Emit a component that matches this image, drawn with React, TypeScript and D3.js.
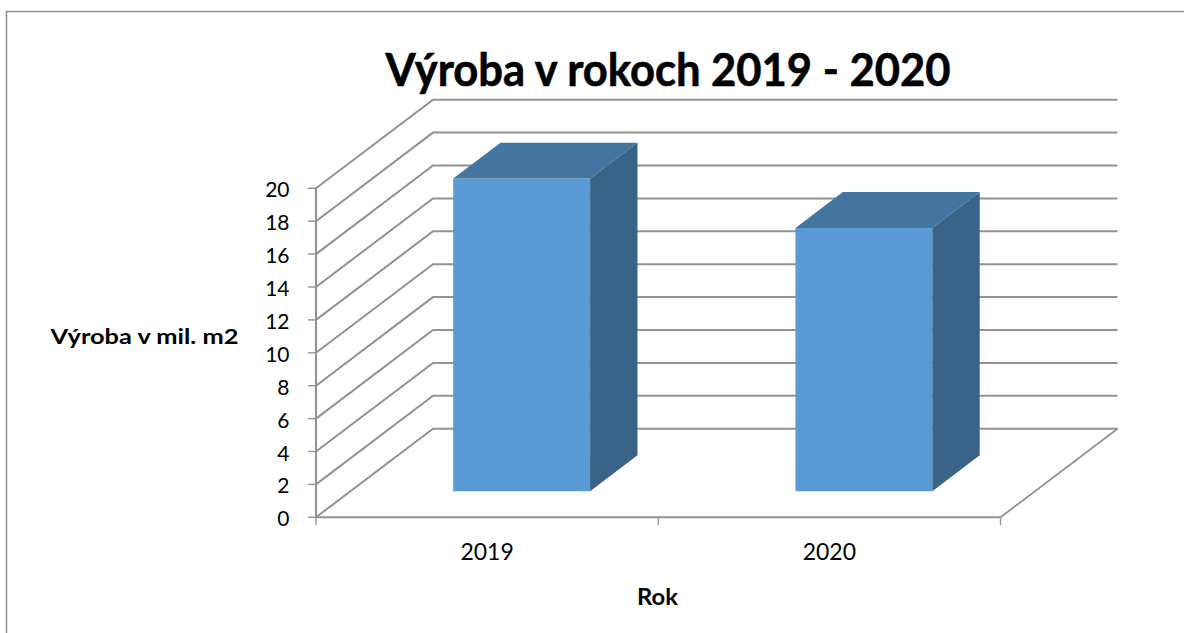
import React from "react";
import * as d3 from "d3";

const categories = ["2019", "2020"];
const values = [19, 16];
const yTicks = [0, 2, 4, 6, 8, 10, 12, 14, 16, 18, 20];
const titleText = "Výroba v rokoch 2019 - 2020";
const yTitle = "Výroba v mil. m2";
const xTitle = "Rok";

const W = 1184;
const H = 633;
const FONT = "Lato, 'Open Sans', sans-serif";
const GRID = "#929292";

const x = d3.scaleBand<string>().domain(categories).range([316, 1000.5]).paddingInner(0.6).paddingOuter(0.3);
const y = d3.scaleLinear().domain([0, 20]).range([517.3, 188.3]);
const depthX = 117;
const depthY = 88.6;
const barFront = 0.295;
const barBack = 0.7;

const pt = (px: number, v: number, d: number): [number, number] => [px + d * depthX, y(v) - d * depthY];
const poly = (pts: [number, number][]) => d3.line()(pts) + "Z";

export default function App() {
  const x0 = x.range()[0];
  const x1 = x.range()[1];
  const step = x.step();
  const boundaries = [0, 1, 2].map((i) => x0 + i * step);
  return (
    <svg width={W} height={H} style={{ position: "absolute", left: 0, top: 0, background: "#fff" }} fontFamily={FONT}>
      <path d={`M6.5 ${H}V11.5H${W}`} fill="none" stroke="#8f8f8f" strokeWidth={1.5} />

      {yTicks.map((t) => {
        const a = pt(x0, t, 0);
        const b = pt(x0, t, 1);
        const c = pt(x1, t, 1);
        return <path key={t} d={d3.line()([a, b, c]) || ""} fill="none" stroke={GRID} strokeWidth={2} />;
      })}
      <path d={d3.line()([pt(x1, 0, 0), pt(x1, 0, 1)]) || ""} fill="none" stroke={GRID} strokeWidth={1.8} />
      <path d={`M${x0} ${y(20)}V${y(0)}H${x1}`} fill="none" stroke={GRID} strokeWidth={2} />
      {yTicks.map((t) => (
        <line key={t} x1={x0 - 8} x2={x0} y1={y(t)} y2={y(t)} stroke={GRID} strokeWidth={1.4} />
      ))}
      {boundaries.map((b) => (
        <line key={b} x1={b} x2={b} y1={y(0)} y2={y(0) + 8} stroke={GRID} strokeWidth={1.3} />
      ))}

      {categories.map((c, i) => {
        const l = x(c)!;
        const r = l + x.bandwidth();
        const v = values[i];
        return (
          <g key={c}>
            <path d={poly([pt(l, 0, barFront), pt(r, 0, barFront), pt(r, v, barFront), pt(l, v, barFront)])} fill="#5b9bd5" />
            <path d={poly([pt(l, v, barFront), pt(r, v, barFront), pt(r, v, barBack), pt(l, v, barBack)])} fill="#4475a0" />
            <path d={poly([pt(r, 0, barFront), pt(r, 0, barBack), pt(r, v, barBack), pt(r, v, barFront)])} fill="#3a6487" />
          </g>
        );
      })}

      {yTicks.map((t) => (
        <text key={t} x={289.5} y={y(t) + 0.5} textAnchor="end" dominantBaseline="central" fontSize={21} fill="#000">
          {t}
        </text>
      ))}
      {categories.map((c) => (
        <text key={c} x={x(c)! + x.bandwidth() / 2} y={560} textAnchor="middle" fontSize={23} fill="#000">
          {c}
        </text>
      ))}
      <text x={668} y={85.5} textAnchor="middle" fontSize={45} fontWeight={700} fill="#000" stroke="#000" strokeWidth={0.6} textLength={565} lengthAdjust="spacingAndGlyphs">
        {titleText}
      </text>
      <text x={144.5} y={343.5} textAnchor="middle" fontSize={21} fontWeight={700} fill="#000" textLength={188} lengthAdjust="spacingAndGlyphs">
        {yTitle}
      </text>
      <text x={657.5} y={605} textAnchor="middle" fontSize={23} fontWeight={700} fill="#000" textLength={41} lengthAdjust="spacingAndGlyphs">
        {xTitle}
      </text>
    </svg>
  );
}
